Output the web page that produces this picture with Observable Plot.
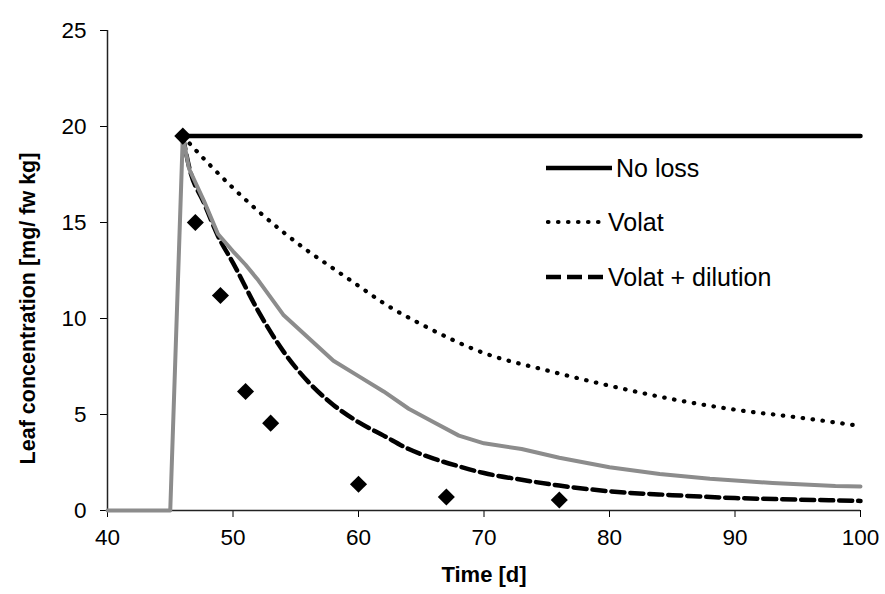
<!DOCTYPE html>
<html><head><meta charset="utf-8">
<script src="https://cdn.jsdelivr.net/npm/d3@7"></script>
<script src="https://cdn.jsdelivr.net/npm/@observablehq/plot@0.6"></script>
<style>
body{margin:0;background:#fff;font-family:"Liberation Sans",Arial,sans-serif;}
#wrap{position:relative;width:885px;height:594px;}
.item{position:absolute;display:flex;align-items:center;white-space:nowrap;font-size:25px;color:#000;height:30px;}
.item svg{display:block;margin-right:4px;}
</style></head><body>
<div id="wrap"><div id="chart"></div></div>
<script>
// Tick values
const xTicks = [40, 50, 60, 70, 80, 90, 100];
const yTicks = [0, 5, 10, 15, 20, 25];

// No loss (black solid)
const noLossDays = [46, 100];
const noLossConc = [19.5, 19.5];

// Volat (dotted)
const volatDays = [46, 48, 50, 52, 54, 56, 58, 60, 62, 65, 70, 75, 80, 85, 90, 95, 100];
const volatConc = [19.5, 18.1, 16.8, 15.6, 14.5, 13.5, 12.6, 11.7, 10.8, 9.7, 8.2, 7.3, 6.5, 5.8, 5.25, 4.85, 4.4];

// Volat + dilution (dashed)
const dilDays = [46, 46.5, 47.7, 48.8, 50, 52, 54, 56, 58, 60, 62, 64, 66, 68, 70, 73, 76, 80, 85, 90, 95, 100];
const dilConc = [19.5, 17.9, 16.0, 14.3, 12.9, 10.4, 8.3, 6.7, 5.5, 4.6, 3.9, 3.2, 2.7, 2.3, 1.95, 1.6, 1.3, 1.0, 0.8, 0.65, 0.57, 0.5];

// Model (grey solid)
const modelDays = [40, 45, 46, 46.5, 47.7, 48.8, 50, 51, 52, 53, 54, 55, 56, 57, 58, 60, 62, 64, 66, 68, 70, 73, 76, 80, 84, 88, 93, 98, 100];
const modelConc = [0, 0, 19.5, 17.8, 16.1, 14.4, 13.5, 12.8, 12.0, 11.1, 10.2, 9.6, 9.0, 8.4, 7.8, 7.0, 6.2, 5.3, 4.6, 3.9, 3.5, 3.2, 2.75, 2.25, 1.9, 1.65, 1.43, 1.27, 1.25];

// Measured (diamonds)
const obsDays = [46, 47, 49, 51, 53, 60, 67, 76];
const obsConc = [19.5, 15.0, 11.2, 6.2, 4.55, 1.37, 0.7, 0.55];

const legendLabels = ["No loss", "Volat", "Volat + dilution"];

const toRows = (xs, ys) => xs.map((x, i) => ({x, y: ys[i]}));

const chart = Plot.plot({
  width: 885, height: 594,
  marginLeft: 107, marginRight: 25, marginTop: 30, marginBottom: 84,
  x: {domain: [40, 100]},
  y: {domain: [0, 25]},
  style: {fontFamily: "'Liberation Sans', Arial, sans-serif", background: "white", color: "black"},
  marks: [
    Plot.axisX({ticks: xTicks, tickSize: 7, tickPadding: 12, fontSize: 22.5, label: null}),
    Plot.axisY({ticks: yTicks, tickSize: 7, tickPadding: 14, fontSize: 22.5, label: null}),
    Plot.ruleX([40], {stroke: "#222", strokeWidth: 1.5}),
    Plot.ruleY([0], {stroke: "#222", strokeWidth: 1.5}),
    Plot.line(toRows(dilDays, dilConc), {x: "x", y: "y", stroke: "#000", strokeWidth: 4.5, strokeDasharray: "13 6", curve: "monotone-x"}),
    Plot.line(toRows(modelDays, modelConc), {x: "x", y: "y", stroke: "#8c8c8c", strokeWidth: 4}),
    Plot.line(toRows(noLossDays, noLossConc), {x: "x", y: "y", stroke: "#000", strokeWidth: 4.5}),
    Plot.line(toRows(volatDays, volatConc), {x: "x", y: "y", stroke: "#000", strokeWidth: 4.2, strokeDasharray: "0.5 9.5", strokeLinecap: "round", curve: "monotone-x"}),
    Plot.dot(toRows(obsDays, obsConc), {x: "x", y: "y", symbol: "diamond2", r: 7.7, fill: "#000", stroke: null}),
    Plot.text(["Time [d]"], {frameAnchor: "bottom", dy: 64, lineAnchor: "middle", textAnchor: "middle", fontWeight: "bold", fontSize: 22}),
    Plot.text(["Leaf concentration [mg/ fw kg]"], {frameAnchor: "left", dx: -79, dy: 38, rotate: -90, textAnchor: "middle", lineAnchor: "middle", fontWeight: "bold", fontSize: 21.5})
  ]
});
document.getElementById("chart").appendChild(chart);

// Legend overlay
const wrap = document.getElementById("wrap");
const samples = [
  {w: 66, attrs: 'stroke-width="4.5"'},
  {w: 58, attrs: 'stroke-width="4.2" stroke-dasharray="0.5 9.5" stroke-linecap="round"'},
  {w: 58, attrs: 'stroke-width="4.5" stroke-dasharray="15 6"'}
];
const tops = [153, 207, 262];
legendLabels.forEach((lab, i) => {
  const d = document.createElement("div");
  d.className = "item";
  d.style.left = "546px";
  d.style.top = tops[i] + "px";
  const s = samples[i];
  const x0 = i === 1 ? 2 : 0;
  d.innerHTML = `<svg width="${s.w}" height="10"><line x1="${x0}" y1="5" x2="${s.w}" y2="5" stroke="#000" ${s.attrs}/></svg><span>${lab}</span>`;
  wrap.appendChild(d);
});
</script>
</body></html>
